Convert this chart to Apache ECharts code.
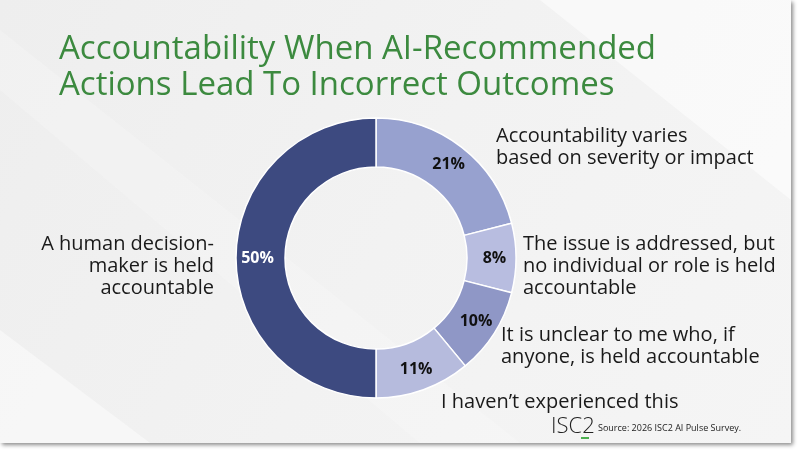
<!DOCTYPE html>
<html>
<head>
<meta charset="utf-8">
<script src="https://cdn.jsdelivr.net/npm/echarts@6/dist/echarts.min.js"></script>
<style>
  html, body { margin: 0; padding: 0; background: #fff; }
  #chart { width: 800px; height: 450px; }
</style>
</head>
<body>
<div id="chart"></div>
<script>
'use strict';

// survey answers, clockwise from 12 o'clock
const categories = [
  'Accountability varies\nbased on severity or impact',
  'The issue is addressed, but\nno individual or role is held\naccountable',
  'It is unclear to me who, if\nanyone, is held accountable',
  'I haven\u2019t experienced this',
  'A human decision-\nmaker is held\naccountable'
];
const shares = [21, 8, 10, 11, 50];
const sliceColors = ['#97a1cf', '#b8bde0', '#8f97c6', '#b6bbdd', '#3d4a80'];
// where each answer text sits: [x, top y, align]
const namePos = [
  [496, 125, 'left'],
  [523, 233, 'left'],
  [501, 324, 'left'],
  [441, 391, 'left'],
  [214, 233, 'right']
];

const font = '"Open Sans", "Noto Sans", sans-serif';
const chart = echarts.init(document.getElementById('chart'), null, { renderer: 'canvas' });

const donutData = categories.map((name, i) => ({
  name: name,
  value: shares[i],
  itemStyle: { color: sliceColors[i] },
  label: { color: i === 4 ? '#ffffff' : '#111111' }
}));

// answer texts beside the ring
const nameTexts = categories.map((name, i) => ({
  type: 'text',
  x: namePos[i][0],
  y: namePos[i][1],
  style: {
    text: name,
    align: namePos[i][2],
    verticalAlign: 'top',
    font: '20px ' + font,
    lineHeight: 22,
    fill: '#1a1a1a'
  }
}));

chart.setOption({
  animation: false,
  title: {
    text: 'Accountability When AI-Recommended\nActions Lead To Incorrect Outcomes',
    left: 54,
    top: 27,
    textStyle: {
      fontFamily: font,
      fontSize: 33,
      fontWeight: 'normal',
      lineHeight: 36,
      color: '#3c8a3f'
    }
  },
  graphic: [
    {
      type: 'rect',
      z: -10,
      shape: { x: 0, y: 0, width: 791, height: 443 },
      style: {
        fill: new echarts.graphic.LinearGradient(0, 0, 1, 1, [
          { offset: 0, color: '#eeeeee' },
          { offset: 0.5, color: '#f2f2f2' },
          { offset: 1, color: '#f5f5f5' }
        ]),
        shadowBlur: 4,
        shadowOffsetX: 2,
        shadowOffsetY: 2,
        shadowColor: 'rgba(0,0,0,0.45)'
      }
    },
    {
      type: 'polygon',
      z: -9,
      shape: { points: [[540, 0], [791, 0], [791, 200]] },
      style: { fill: 'rgba(255,255,255,0.5)' }
    },
    {
      type: 'polygon',
      z: -9,
      shape: { points: [[0, 330], [0, 443], [150, 443]] },
      style: { fill: 'rgba(255,255,255,0.45)' }
    },
    {
      type: 'polygon',
      z: -9,
      shape: { points: [[0, 30], [0, 90], [420, 443], [520, 443]] },
      style: { fill: 'rgba(255,255,255,0.18)' }
    },
    {
      type: 'text',
      left: 551,
      top: 416,
      style: {
        text: 'ISC2',
        font: '300 22px ' + font,
        fill: '#222222'
      }
    },
    {
      type: 'rect',
      shape: { x: 581, y: 437, width: 8, height: 2 },
      style: { fill: '#4caf50' }
    },
    {
      type: 'text',
      left: 598,
      top: 424,
      style: {
        text: 'Source: 2026 ISC2 AI Pulse Survey.',
        font: '9px ' + font,
        fill: '#222222'
      }
    }
  ].concat(nameTexts),
  series: [
    {
      type: 'pie',
      center: [376, 258],
      radius: [91, 140],
      startAngle: 90,
      clockwise: true,
      silent: true,
      itemStyle: { borderColor: '#ffffff', borderWidth: 1.5 },
      label: {
        show: true,
        position: 'inside',
        formatter: '{c}%',
        fontFamily: font,
        fontSize: 16,
        fontWeight: 'bold'
      },
      labelLine: { show: false },
      data: donutData
    }
  ]
});
</script>
</body>
</html>
